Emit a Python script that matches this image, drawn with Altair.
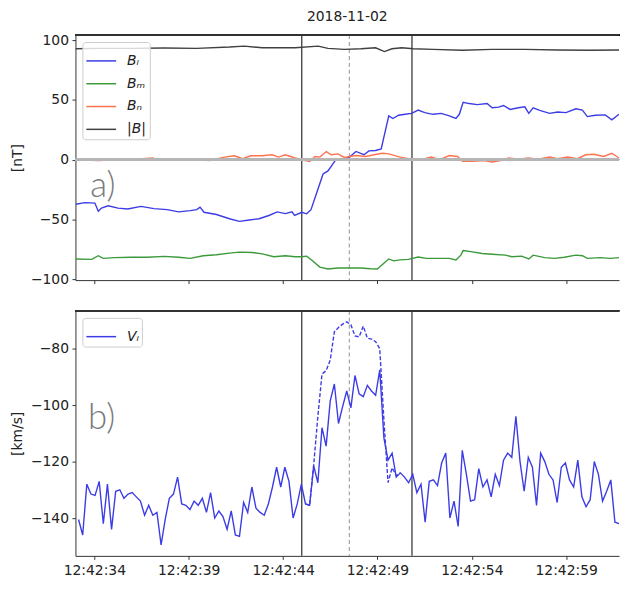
import altair as alt
import pandas as pd

TITLE = "2018-11-02"
X_DOMAIN = [33.0, 61.8]
TICK_SECONDS = [34, 39, 44, 49, 54, 59]
B_DOMAIN = [-100.8, 104.3]
B_TICKS = [-100, -50, 0, 50, 100]
V_DOMAIN = [-153.4, -66.6]
V_TICKS = [-140, -120, -100, -80]

COMPONENTS = ["Bₗ", "Bₘ", "Bₙ", "|B|"]
COMP_COLORS = ["#3c3ce6", "#3a9a3a", "#ff7350", "#404040"]
VL_NAME = "Vₗ"
VL_COLOR = "#3c3ce6"

EDGE_T = [44.99, 50.83]
CENTER_T = [47.51]

PANEL_TEXT = ["a)", "b)"]
PANEL_TEXT_T = [33.79, 33.67]
PANEL_TEXT_V = [-31.5, -108.5]

BL_T = [33.01, 33.51, 34.03, 34.21, 34.38, 34.73, 35.25, 35.77, 36.47, 37.16,
        37.86, 38.47, 39.08, 39.43, 39.60, 39.81, 40.47, 41.16, 41.69, 42.21,
        42.73, 43.25, 43.69, 44.12, 44.47, 44.61, 44.99, 45.25, 45.48, 45.77,
        46.12, 46.38, 46.76, 47.08, 47.51, 47.86, 48.29, 48.55, 48.90, 49.20,
        49.60, 49.82, 50.12, 50.47, 50.81, 51.16, 51.51, 51.94, 52.38, 52.81,
        53.16, 53.34, 53.54, 53.86, 54.29, 54.81, 55.08, 55.42, 55.68, 56.03,
        56.47, 56.81, 57.02, 57.25, 57.60, 58.12, 58.55, 58.99, 59.51, 59.86,
        60.12, 60.55, 61.07, 61.42, 61.80]
BL_V = [-37.3, -35.9, -36.3, -43.2, -40.5, -38.6, -40.5, -41.3, -39.1, -41.0,
        -41.8, -43.7, -42.6, -41.8, -39.7, -44.0, -45.9, -49.4, -51.6, -50.5,
        -49.4, -46.7, -43.7, -45.1, -43.7, -46.7, -44.0, -45.3, -41.8, -28.3,
        -12.0, -9.4, -0.7, 0.1, 2.0, 6.9, 4.2, 7.4, 7.7, 9.0,
        36.7, 34.5, 37.2, 38.0, 38.8, 41.6, 39.4, 38.0, 38.8, 36.7,
        34.5, 38.0, 48.1, 47.0, 46.1, 47.0, 43.5, 44.0, 45.4, 42.1,
        43.5, 44.3, 38.8, 43.5, 41.3, 38.8, 39.9, 39.4, 42.6, 41.6,
        36.1, 37.2, 37.5, 33.4, 38.0]

BM_T = [33.01, 33.86, 34.21, 34.47, 35.08, 35.95, 36.82, 37.69, 38.47, 39.08,
        39.77, 40.47, 41.16, 41.69, 42.38, 42.90, 43.51, 44.12, 44.64, 44.99,
        45.25, 45.51, 45.95, 46.38, 46.90, 47.51, 48.12, 48.64, 48.99, 49.25,
        49.60, 49.86, 50.21, 50.64, 51.16, 51.60, 52.12, 52.81, 53.16, 53.42,
        53.54, 54.03, 54.55, 55.08, 55.77, 56.12, 56.64, 57.02, 57.25, 57.86,
        58.38, 58.90, 59.51, 59.86, 60.12, 60.81, 61.33, 61.80]
BM_V = [-83.1, -83.4, -80.4, -82.6, -82.0, -81.7, -81.7, -80.9, -81.7, -82.6,
        -80.4, -79.6, -78.2, -77.4, -77.7, -78.8, -81.2, -80.4, -81.2, -81.2,
        -80.7, -83.9, -89.9, -91.5, -90.7, -90.7, -90.7, -91.3, -91.5, -88.0,
        -83.1, -84.7, -83.9, -83.4, -81.5, -82.6, -82.6, -82.6, -83.9, -79.9,
        -76.1, -77.2, -78.5, -79.1, -79.9, -81.2, -80.7, -83.1, -79.9, -82.0,
        -82.6, -81.7, -79.9, -80.4, -82.6, -82.0, -82.6, -82.0]

BN_T = [33.01, 34.21, 35.08, 35.95, 37.08, 37.51, 38.56, 39.43, 40.12, 40.82,
        41.42, 41.86, 42.29, 42.90, 43.42, 43.77, 44.12, 44.64, 44.99, 45.42,
        45.69, 45.95, 46.29, 46.55, 46.90, 47.25, 47.86, 48.38, 48.82, 49.25,
        49.60, 50.21, 50.64, 51.08, 51.51, 51.86, 52.29, 52.81, 53.25, 53.51,
        54.03, 54.64, 55.08, 55.60, 55.94, 56.47, 56.99, 57.51, 58.12, 58.55,
        59.07, 59.60, 60.03, 60.47, 60.99, 61.42, 61.80]
BN_V = [0.0, -0.8, 0.0, 0.3, 1.4, -0.5, 0.0, 0.0, -0.8, 1.9,
        3.3, 0.8, 3.3, 3.3, 4.1, 2.2, 4.1, 1.4, 0.0, -1.4,
        2.7, 2.2, 6.8, 4.1, 4.9, 1.9, 3.5, 2.7, 4.1, 5.4,
        4.9, 2.2, 0.8, -0.5, 0.8, 2.2, 0.0, 3.5, 2.7, -1.4,
        -1.4, -0.8, -1.9, -0.5, 1.4, 0.5, 1.4, 0.5, 2.2, 0.8,
        2.2, 0.8, 4.1, 4.6, 2.7, 5.4, 1.4]

BT_T = [33.01, 34.21, 35.95, 37.69, 39.43, 41.16, 41.95, 42.90, 43.77, 44.64,
        45.86, 46.38, 47.25, 48.12, 48.90, 49.37, 49.77, 50.29, 50.90, 51.94,
        53.51, 55.08, 56.81, 58.55, 60.29, 61.80]
BT_V = [92.9, 93.2, 93.2, 93.5, 93.2, 94.3, 95.1, 93.7, 93.7, 93.7,
        95.1, 93.2, 92.4, 92.9, 93.7, 90.5, 92.9, 93.7, 92.9, 92.4,
        91.6, 92.4, 92.4, 91.8, 91.6, 91.8]

# V_L sampled at a fixed cadence
VL_START = 33.165
VL_STEP = 0.2186
VL = [-140.5, -146, -128, -131.5, -132, -127, -142, -128, -144, -130.5,
      -130, -133, -131.5, -131, -132.5, -134, -139, -135.5, -139, -138,
      -149.5, -140.5, -133, -131.5, -125.5, -135, -135.5, -137, -134, -135.5,
      -133, -138, -131, -140, -137.5, -139.5, -144, -137.5, -146, -146.5,
      -134.5, -138, -129, -136.5, -138, -139, -135, -129, -122, -129,
      -122, -127, -140, -135, -128,
      -135, -135.5, -121.5, -127.5, -108, -114.5, -98.5, -92.5, -106.5, -100.5,
      -95, -101, -89.5, -96, -97, -93, -95, -96.5, -87.5, -111.5,
      -119.5, -117, -125.5, -124, -125.5, -127.5, -124.5, -131, -128, -141.5,
      -127, -126.5, -128.5, -120.5, -117, -140, -134, -143, -116, -124.5,
      -134, -133.5, -122.5, -129, -126.5, -132.5, -124.5, -128.5, -119.5, -117,
      -118.5, -104, -120, -130.5, -118.5, -122, -135.5, -117, -120, -124.5,
      -126.5, -134.5, -122, -120.5, -126.5, -129, -119.5, -132.5, -136, -133.5,
      -120, -124.5, -134, -130.5, -126.5, -141.5, -142]
VL_ALT_FIRST = 55
VL_ALT = [-135, -135.5, -121, -104, -89, -87.8, -84, -74, -72.5, -71.3,
          -70.5, -71.5, -75.5, -75.8, -72, -76.3, -76.6, -77.5, -80, -105,
          -127.4, -122.2, -125, -124]

FONT = "DejaVu Sans"
W = 548
H_TOP = 247
H_BOT = 247

b_df = pd.DataFrame({
    "t": BL_T + BM_T + BN_T + BT_T,
    "v": BL_V + BM_V + BN_V + BT_V,
    "comp": [COMPONENTS[0]] * len(BL_T) + [COMPONENTS[1]] * len(BM_T)
            + [COMPONENTS[2]] * len(BN_T) + [COMPONENTS[3]] * len(BT_T),
})
vl_df = pd.DataFrame({
    "t": [VL_START + i * VL_STEP for i in range(len(VL))],
    "v": VL,
    "series": [VL_NAME] * len(VL),
})
vl_alt_df = pd.DataFrame({
    "t": [VL_START + (VL_ALT_FIRST + i) * VL_STEP for i in range(len(VL_ALT))],
    "v": VL_ALT,
})
edge_df = pd.DataFrame({"t": EDGE_T})
center_df = pd.DataFrame({"t": CENTER_T})
top_text_df = pd.DataFrame({"t": [PANEL_TEXT_T[0]], "v": [PANEL_TEXT_V[0]], "label": [PANEL_TEXT[0]]})
bot_text_df = pd.DataFrame({"t": [PANEL_TEXT_T[1]], "v": [PANEL_TEXT_V[1]], "label": [PANEL_TEXT[1]]})

x_scale = alt.Scale(domain=X_DOMAIN, nice=False, zero=False)
x_top_axis = alt.Axis(values=TICK_SECONDS, labels=False, title=None)
x_bot_axis = alt.Axis(values=TICK_SECONDS, labelExpr="'12:42:' + datum.value", title=None,
                      labelPadding=4)

yb_scale = alt.Scale(domain=B_DOMAIN, nice=False, zero=False)
yb_axis = alt.Axis(values=B_TICKS, title="[nT]")
yv_scale = alt.Scale(domain=V_DOMAIN, nice=False, zero=False)
yv_axis = alt.Axis(values=V_TICKS, title="[km/s]")

legend_style = dict(title=None, orient="top-left", offset=7,
                    symbolType="stroke", symbolSize=900,
                    symbolStrokeWidth=1.5, labelOffset=10,
                    rowPadding=-7, padding=3, labelFontStyle="italic")


def event_rules(x_axis):
    edge = alt.Chart(edge_df).mark_rule(color="#3a3a3a", strokeWidth=1.3).encode(
        x=alt.X("t:Q", scale=x_scale, axis=x_axis))
    center = alt.Chart(center_df).mark_rule(color="#9a9a9a", strokeWidth=1.1, strokeDash=[4, 3]).encode(
        x=alt.X("t:Q", scale=x_scale, axis=x_axis))
    return edge, center


# ---- top panel ----
top_edge, top_center = event_rules(x_top_axis)
b_lines = alt.Chart(b_df).mark_line(strokeWidth=1.4, clip=True).encode(
    x=alt.X("t:Q", scale=x_scale, axis=x_top_axis),
    y=alt.Y("v:Q", scale=yb_scale, axis=yb_axis),
    color=alt.Color("comp:N", sort=COMPONENTS,
                    scale=alt.Scale(domain=COMPONENTS, range=COMP_COLORS),
                    legend=alt.Legend(**legend_style)),
)
zero_rule = alt.Chart(b_df).mark_rule(color="#b5b5b5", strokeWidth=2.2).encode(
    y=alt.Y(datum=0, scale=yb_scale, axis=yb_axis))
top_border = alt.Chart(b_df).mark_rule(color="#333333", strokeWidth=1).encode(
    y=alt.Y(datum=B_DOMAIN[1], scale=yb_scale, axis=yb_axis))
top_text = alt.Chart(top_text_df).mark_text(align="left", baseline="alphabetic", fontSize=35,
                                            font="Lato", fontWeight=300, color="#7a7a7a").encode(
    x=alt.X("t:Q", scale=x_scale, axis=x_top_axis),
    y=alt.Y("v:Q", scale=yb_scale, axis=yb_axis),
    text="label:N")

top = alt.layer(top_edge, top_center, b_lines, zero_rule, top_border, top_text).properties(
    width=W, height=H_TOP,
    title=alt.TitleParams(TITLE, anchor="middle", frame="group", fontSize=14,
                          fontWeight="normal", font=FONT, color="#222222", offset=9),
)

# ---- bottom panel ----
bot_edge, bot_center = event_rules(x_bot_axis)
vl_alt_line = alt.Chart(vl_alt_df).mark_line(strokeWidth=1.4, strokeDash=[4, 2], color=VL_COLOR, clip=True).encode(
    x=alt.X("t:Q", scale=x_scale, axis=x_bot_axis),
    y=alt.Y("v:Q", scale=yv_scale, axis=yv_axis))
vl_line = alt.Chart(vl_df).mark_line(strokeWidth=1.4, clip=True).encode(
    x=alt.X("t:Q", scale=x_scale, axis=x_bot_axis),
    y=alt.Y("v:Q", scale=yv_scale, axis=yv_axis),
    color=alt.Color("series:N", scale=alt.Scale(domain=[VL_NAME], range=[VL_COLOR]),
                    legend=alt.Legend(**legend_style)))
bot_border = alt.Chart(vl_df).mark_rule(color="#333333", strokeWidth=1).encode(
    y=alt.Y(datum=V_DOMAIN[1], scale=yv_scale, axis=yv_axis))
bot_text = alt.Chart(bot_text_df).mark_text(align="left", baseline="alphabetic", fontSize=35,
                                            font="Lato", fontWeight=300, color="#7a7a7a").encode(
    x=alt.X("t:Q", scale=x_scale, axis=x_bot_axis),
    y=alt.Y("v:Q", scale=yv_scale, axis=yv_axis),
    text="label:N")

bottom = alt.layer(bot_edge, bot_center, vl_alt_line, vl_line, bot_border, bot_text).properties(
    width=W, height=H_BOT)

chart = alt.vconcat(top, bottom, spacing=23).resolve_scale(color="independent").resolve_legend(
    color="independent").properties(
    padding={"left": 3, "right": 0, "top": 0, "bottom": 0}
).configure_view(stroke=None).configure_axis(
    grid=False, domain=True, domainColor="#333333", domainWidth=1,
    tickColor="#333333", tickSize=3.5, tickWidth=1,
    labelFont=FONT, labelFontSize=14, labelColor="#222222", labelPadding=3.5,
    titleFont=FONT, titleFontSize=14, titleFontWeight="normal", titleColor="#222222",
).configure_axisY(minExtent=46, maxExtent=46, titlePadding=5).configure_legend(
    labelFont=FONT, labelFontSize=14, labelColor="#222222",
    fillColor="rgba(255,255,255,0.8)", strokeColor="#cccccc", cornerRadius=3,
)

chart.save("out.html", embed_options={"renderer": "svg", "actions": False})
